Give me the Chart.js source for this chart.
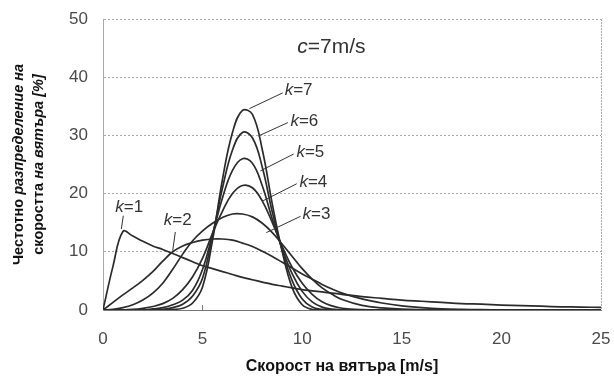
<!DOCTYPE html>
<html>
<head>
<meta charset="utf-8">
<script src="https://cdn.jsdelivr.net/npm/chart.js@4.4.1/dist/chart.umd.min.js"></script>
<style>
  html, body { margin: 0; padding: 0; background: #fff; }
</style>
</head>
<body>
<canvas id="myChart" width="614" height="383"></canvas>
<script>
// wind speed [m/s], shared by all curves
const speed = [0, 0.5, 1, 1.5, 2, 2.5, 3, 3.5, 4, 4.5, 5, 5.5, 6, 6.5, 7, 7.5, 8, 8.5, 9, 9.5, 10, 10.5, 11, 11.5, 12,
  13, 14, 15, 16, 17, 18, 19, 20, 21, 22, 23, 24, 25];

// frequency [%] for each shape factor k (c = 7 m/s)
const k1 = [0, 7.5, 13.5, 12.7, 11.8, 11.0, 10.4, 9.7, 9.0, 8.3, 7.6, 7.1, 6.6, 6.1, 5.6, 5.2, 4.8, 4.4, 4.1, 3.8, 3.5, 3.3, 3.1, 2.9, 2.7,
  2.3, 2.0, 1.7, 1.5, 1.3, 1.1, 1.0, 0.85, 0.75, 0.65, 0.55, 0.5, 0.45];
const k2 = [0, 1.3, 2.6, 3.8, 5.1, 6.6, 8.4, 10.0, 11.0, 11.6, 12.0, 12.2, 12.2, 12.0, 11.5, 10.9, 10.1, 9.2, 8.2, 7.2, 6.2, 5.3, 4.4, 3.6, 2.9,
  1.9, 1.2, 0.7, 0.4, 0.2, 0.1, 0.05, 0, 0, 0, 0, 0, 0];
const k3 = [0, 0.1, 0.4, 0.9, 1.7, 2.9, 4.6, 7.0, 9.6, 11.9, 13.6, 14.9, 15.9, 16.5, 16.5, 16.0, 14.9, 13.3, 11.3, 9.2, 7.1, 5.3, 3.8, 2.7, 1.8,
  0.8, 0.35, 0.15, 0.05, 0, 0, 0, 0, 0, 0, 0, 0, 0];
const k4 = [0, 0, 0, 0.1, 0.3, 0.6, 1.1, 2.0, 3.5, 5.7, 8.9, 13.2, 17.0, 20.0, 21.4, 21.0, 18.7, 15.0, 10.9, 7.3, 4.6, 2.7, 1.4, 0.7, 0.3,
  0.05, 0, 0, 0, 0, 0, 0, 0, 0, 0, 0, 0, 0];
const k5 = [0, 0, 0, 0, 0, 0.2, 0.4, 0.9, 1.7, 3.4, 7.0, 13.0, 19.3, 24.0, 26.0, 25.2, 21.3, 15.6, 10.5, 6.2, 3.2, 1.4, 0.5, 0.15, 0,
  0, 0, 0, 0, 0, 0, 0, 0, 0, 0, 0, 0, 0];
const k6 = [0, 0, 0, 0, 0, 0, 0.1, 0.4, 1.0, 2.4, 5.5, 12.8, 21.0, 27.5, 30.5, 29.6, 24.5, 16.8, 10.2, 5.0, 1.9, 0.5, 0.1, 0, 0,
  0, 0, 0, 0, 0, 0, 0, 0, 0, 0, 0, 0, 0];
const k7 = [0, 0, 0, 0, 0, 0, 0, 0.1, 0.3, 1.2, 4.0, 12.0, 22.5, 30.5, 34.3, 33.6, 27.5, 18.2, 10.0, 3.8, 0.9, 0.1, 0, 0, 0,
  0, 0, 0, 0, 0, 0, 0, 0, 0, 0, 0, 0, 0];

const series = [k1, k2, k3, k4, k5, k6, k7];
const kNames = ['1', '2', '3', '4', '5', '6', '7'];

const xTicks = [0, 5, 10, 15, 20, 25];
const yTicks = [0, 10, 20, 30, 40, 50];

// label text position and leader line, in data units
const kLabels = [
  { k: '1', at: [0.62, 17.7], line: [1.02, 16.2, 0.92, 13.9] },
  { k: '2', at: [3.05, 15.4], line: [3.63, 13.4, 3.5, 10.2] },
  { k: '3', at: [10.02, 16.4], line: [9.92, 16.1, 8.2, 13.3] },
  { k: '4', at: [9.86, 22.0], line: [9.73, 21.7, 8.0, 18.7] },
  { k: '5', at: [9.71, 27.1], line: [9.57, 26.8, 7.9, 23.9] },
  { k: '6', at: [9.41, 32.4], line: [9.28, 32.2, 7.8, 29.9] },
  { k: '7', at: [9.12, 37.7], line: [9.02, 37.3, 7.35, 34.6] }
];

const ink = '#2b2b2b';
const tickFont = { family: '"Liberation Sans", Arial, sans-serif', size: 17 };

const notes = {
  id: 'notes',
  afterDatasetsDraw(chart) {
    const { ctx, scales: { x, y }, chartArea } = chart;
    ctx.save();
    ctx.strokeStyle = '#333';
    ctx.fillStyle = '#333';
    ctx.lineWidth = 1;
    ctx.textBaseline = 'middle';
    kLabels.forEach(l => {
      ctx.beginPath();
      ctx.moveTo(x.getPixelForValue(l.line[0]), y.getPixelForValue(l.line[1]));
      ctx.lineTo(x.getPixelForValue(l.line[2]), y.getPixelForValue(l.line[3]));
      ctx.stroke();
      let px = x.getPixelForValue(l.at[0]);
      const py = y.getPixelForValue(l.at[1]);
      ctx.font = 'italic 17px "Liberation Sans", Arial';
      ctx.fillText('k', px, py);
      px += ctx.measureText('k').width;
      ctx.font = '17px "Liberation Sans", Arial';
      ctx.fillText('=' + l.k, px, py);
    });

    // c = 7 m/s
    let cx = x.getPixelForValue(9.75);
    const cy = y.getPixelForValue(45.2);
    ctx.font = 'italic 21px "Liberation Sans", Arial';
    ctx.fillText('c', cx, cy);
    cx += ctx.measureText('c').width;
    ctx.font = '21px "Liberation Sans", Arial';
    ctx.fillText('=7m/s', cx, cy);

    // small tick on the baseline at 5 m/s
    const t5 = x.getPixelForValue(5);
    ctx.strokeStyle = '#777';
    ctx.beginPath();
    ctx.moveTo(t5, chartArea.bottom);
    ctx.lineTo(t5, chartArea.bottom - 5);
    ctx.stroke();
    ctx.restore();
  },
  afterDraw(chart) {
    const { ctx, chartArea } = chart;
    // x title, sitting a little left of the plot centre as in the original
    ctx.save();
    ctx.fillStyle = '#111';
    ctx.textAlign = 'center';
    ctx.textBaseline = 'middle';
    ctx.font = 'bold 16px "Liberation Sans", Arial';
    ctx.fillText('Скорост на вятъра [m/s]', chartArea.left + 239, 367);

    // two-line y title, part upright, part italic
    const lines = [
      [['Честотно ', 'normal'], ['разпределение на', 'italic']],
      [['скоростта ', 'normal'], ['на вятъра [%]', 'italic']]
    ];
    const xs = [19, 39];
    const cyMid = (chartArea.top + chartArea.bottom) / 2;
    ctx.textAlign = 'left';
    lines.forEach((parts, i) => {
      let w = 0;
      parts.forEach(p => {
        ctx.font = p[1] + ' bold 14.5px "Liberation Sans", Arial';
        w += ctx.measureText(p[0]).width;
      });
      ctx.save();
      ctx.translate(xs[i], cyMid);
      ctx.rotate(-Math.PI / 2);
      let px = -w / 2;
      parts.forEach(p => {
        ctx.font = p[1] + ' bold 14.5px "Liberation Sans", Arial';
        ctx.fillText(p[0], px, 0);
        px += ctx.measureText(p[0]).width;
      });
      ctx.restore();
    });
    ctx.restore();
  }
};

new Chart(document.getElementById('myChart').getContext('2d'), {
  type: 'line',
  data: {
    datasets: series.map((s, i) => ({
      label: 'k=' + kNames[i],
      data: speed.map((v, j) => ({ x: v, y: s[j] })),
      borderColor: ink,
      borderWidth: 1.7,
      pointRadius: 0,
      tension: 0.4,
      fill: false
    }))
  },
  options: {
    responsive: false,
    animation: false,
    layout: { padding: 0 },
    plugins: { legend: { display: false }, tooltip: { enabled: false } },
    scales: {
      x: {
        type: 'linear',
        min: 0,
        max: 25,
        afterBuildTicks: s => { s.ticks = xTicks.map(v => ({ value: v })); },
        afterFit: s => { s.height = 73; s.paddingLeft = 0; s.paddingRight = 13; },
        ticks: { color: '#4a4a4a', font: tickFont, padding: 19, maxRotation: 0 },
        grid: {
          drawTicks: false,
          color: c => (c.tick && (c.tick.value === 0 || c.tick.value === 25)) ? '#aaa' : 'rgba(0,0,0,0)',
          lineWidth: 1
        },
        border: { display: true, color: '#777', width: 1, dash: [2, 1] },
        title: { display: false }
      },
      y: {
        min: 0,
        max: 50,
        afterBuildTicks: s => { s.ticks = yTicks.map(v => ({ value: v })); },
        afterFit: s => { s.width = 103; s.paddingTop = 19; s.paddingBottom = 0; },
        ticks: { color: '#4a4a4a', font: tickFont, padding: 15 },
        grid: { drawTicks: false, color: '#aaa', lineWidth: 1 },
        border: { display: true, color: '#aaa', width: 1, dash: [2, 2] }
      }
    }
  },
  plugins: [notes]
});
</script>
</body>
</html>
